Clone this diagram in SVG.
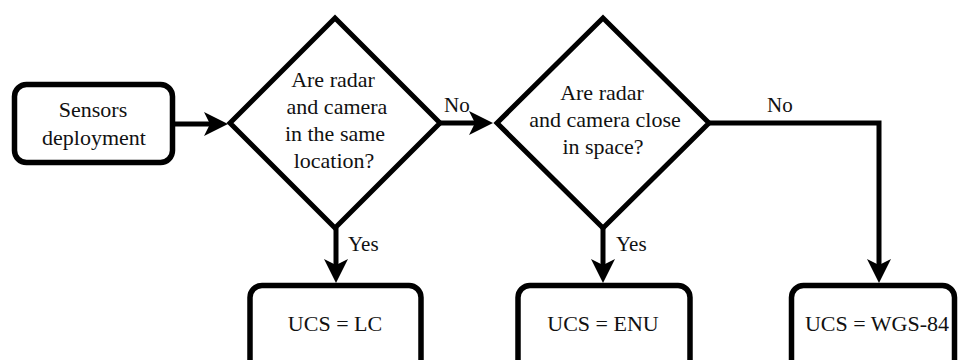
<svg xmlns="http://www.w3.org/2000/svg" width="959" height="360" viewBox="0 0 959 360">
<style>
.box{fill:#fff;stroke:#000;stroke-width:5.5}
.dia{fill:#fff;stroke:#000;stroke-width:5;stroke-linejoin:miter}
.conn{fill:none;stroke:#000;stroke-width:5}
</style>
<defs>
<marker id="arr" viewBox="-25 -13 27 26" refX="-12" refY="0" markerWidth="27" markerHeight="26" markerUnits="userSpaceOnUse" orient="auto">
<path d="M0,0 L-24,-12 L-18,0 L-24,12 Z" fill="#000"/>
</marker>
</defs>
<rect width="959" height="360" fill="#fff"/>
<g id="connectors">
<line class="conn" x1="175" y1="124" x2="216" y2="124" marker-end="url(#arr)"/>
<line class="conn" x1="440" y1="123" x2="481" y2="123" marker-end="url(#arr)"/>
<line class="conn" x1="336" y1="228" x2="336" y2="271" marker-end="url(#arr)"/>
<line class="conn" x1="603" y1="228" x2="603" y2="271" marker-end="url(#arr)"/>
<polyline class="conn" points="709,123 879,123 879,271" marker-end="url(#arr)"/>
<text font-family="Liberation Serif" font-size="21" fill="#111" x="444" y="112">No</text>
<text font-family="Liberation Serif" font-size="21" fill="#111" x="767" y="112">No</text>
<text font-family="Liberation Serif" font-size="21" fill="#111" x="348" y="251">Yes</text>
<text font-family="Liberation Serif" font-size="21" fill="#111" x="616" y="251">Yes</text>
</g>
<g id="sensors">
<rect class="box" x="14.5" y="84.5" width="158" height="78" rx="12"/>
<text font-family="Liberation Serif" font-size="22" fill="#111" text-anchor="middle" x="93" y="117">Sensors</text>
<text font-family="Liberation Serif" font-size="22" fill="#111" text-anchor="middle" x="94" y="145">deployment</text>
</g>
<g id="decision1">
<polygon class="dia" points="335,18 440,123 335,228 230,123"/>
<text font-family="Liberation Serif" font-size="22" fill="#111" text-anchor="middle" x="333" y="87">Are radar</text>
<text font-family="Liberation Serif" font-size="22" fill="#111" text-anchor="middle" x="337" y="114">and camera</text>
<text font-family="Liberation Serif" font-size="22" fill="#111" text-anchor="middle" x="335" y="141">in the same</text>
<text font-family="Liberation Serif" font-size="22" fill="#111" text-anchor="middle" x="334" y="168">location?</text>
</g>
<g id="decision2">
<polygon class="dia" points="603,18 709,123 603,228 497,123"/>
<text font-family="Liberation Serif" font-size="22" fill="#111" text-anchor="middle" x="602" y="100">Are radar</text>
<text font-family="Liberation Serif" font-size="22" fill="#111" text-anchor="middle" x="605" y="127">and camera close</text>
<text font-family="Liberation Serif" font-size="22" fill="#111" text-anchor="middle" x="603" y="154">in space?</text>
</g>
<g id="lc">
<rect class="box" x="250" y="285.5" width="171" height="95" rx="12"/>
<text font-family="Liberation Serif" font-size="22" fill="#111" text-anchor="middle" x="335" y="331">UCS = LC</text>
</g>
<g id="enu">
<rect class="box" x="518" y="285.5" width="172" height="95" rx="12"/>
<text font-family="Liberation Serif" font-size="22" fill="#111" text-anchor="middle" x="603" y="331">UCS = ENU</text>
</g>
<g id="wgs">
<rect class="box" x="791.5" y="285.5" width="163" height="95" rx="12"/>
<text font-family="Liberation Serif" font-size="22" fill="#111" text-anchor="middle" x="877" y="331">UCS = WGS-84</text>
</g>
</svg>
